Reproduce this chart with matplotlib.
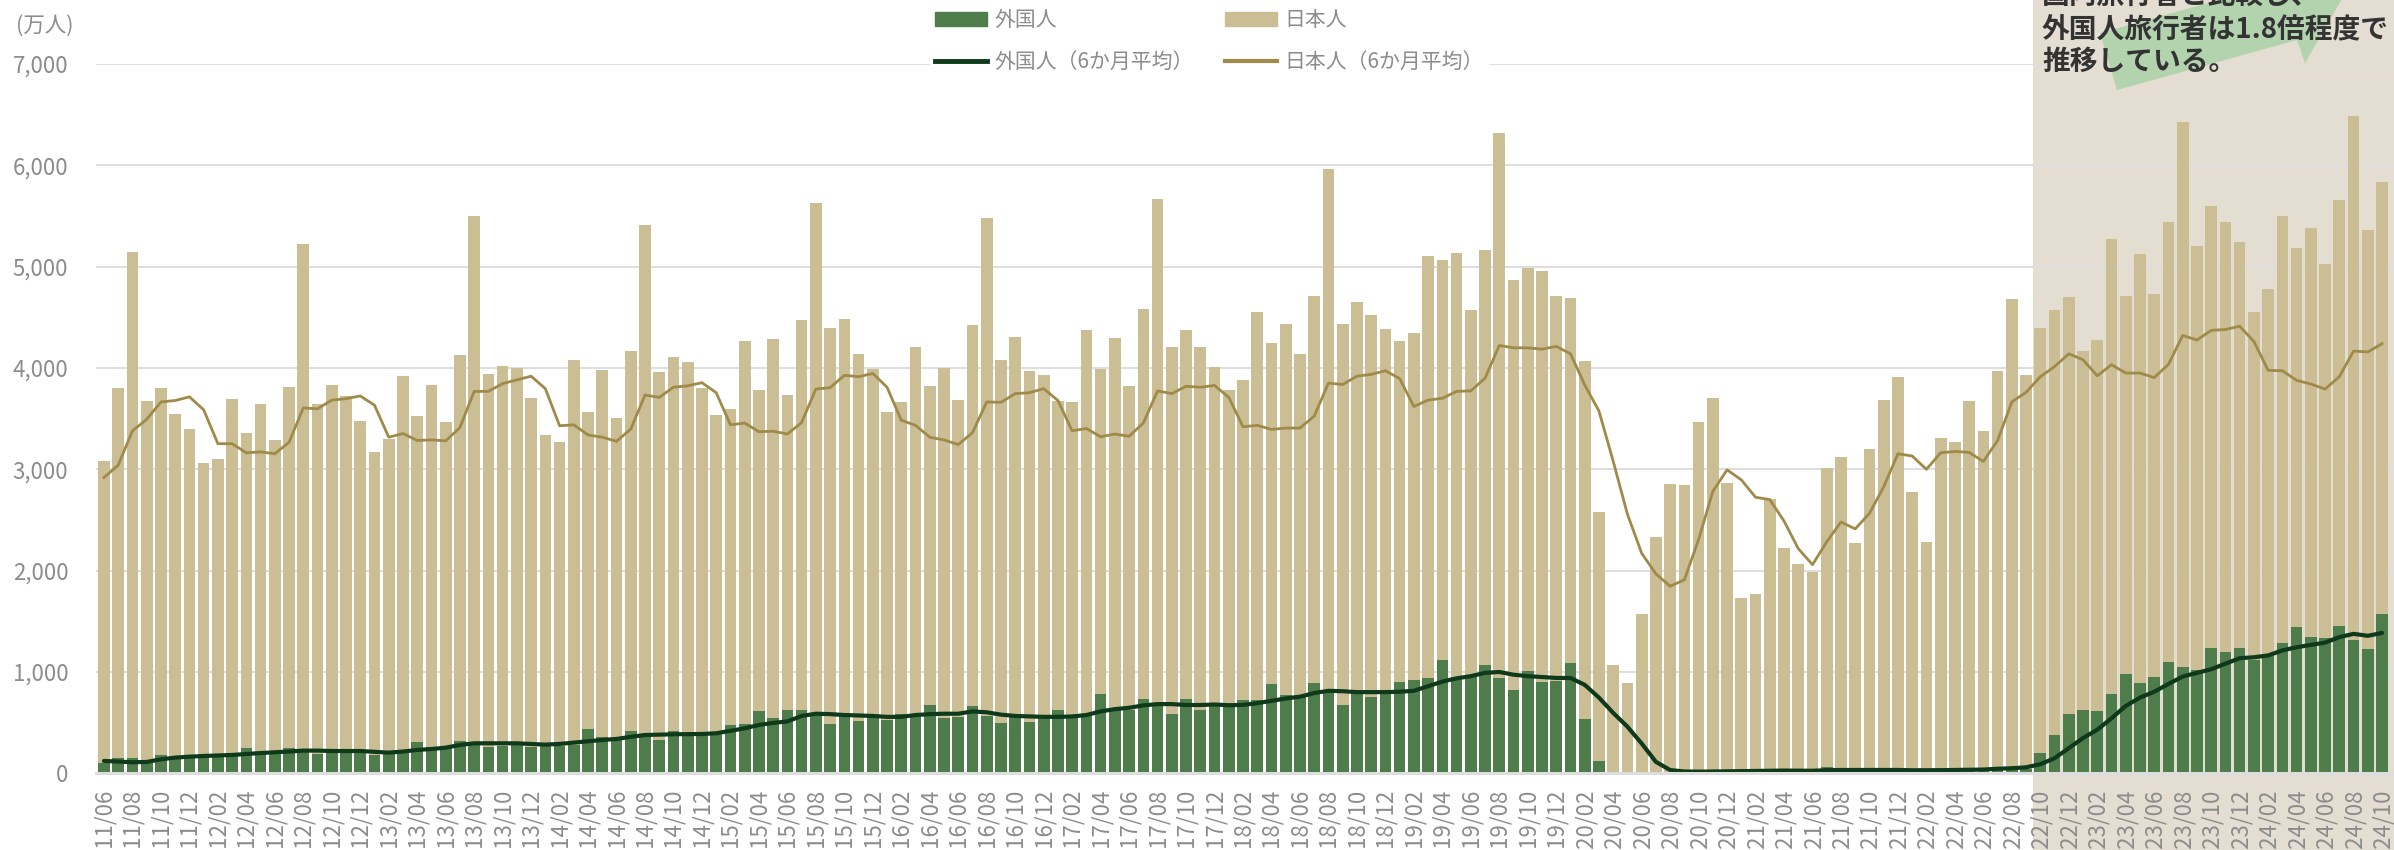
import numpy as np
import matplotlib
matplotlib.use("Agg")
import matplotlib.pyplot as plt
from matplotlib.patches import Patch, Rectangle, Polygon
from matplotlib.lines import Line2D
from matplotlib.transforms import blended_transform_factory

plt.rcParams['font.family'] = ['Noto Sans CJK JP', 'DejaVu Sans']

# monthly guest nights (万人), 2011/06 - 2024/10
foreign = [
    105, 151, 150, 115, 184, 165, 171,                                  # 2011
    178, 181, 188, 253, 207, 214, 247, 237, 188, 230, 230, 230,         # 2012
    178, 204, 230, 306, 263, 270, 319, 296, 260, 273, 280, 263,         # 2013
    273, 270, 280, 438, 355, 345, 418, 385, 326, 421, 395, 405,         # 2014
    395, 474, 487, 618, 543, 625, 629, 580, 490, 598, 520, 570,         # 2015
    529, 588, 557, 670, 543, 557, 661, 566, 498, 557, 507, 557,         # 2016
    624, 557, 575, 778, 647, 620, 738, 679, 588, 733, 629, 679,         # 2017
    665, 724, 720, 878, 769, 769, 896, 814, 670, 792, 756, 792,         # 2018
    905, 919, 941, 1118, 950, 950, 1072, 937, 819, 1014, 900, 910,      # 2019
    1086, 538, 122, 15, 5, 4, 10, 8, 12, 20, 28, 30,                    # 2020
    25, 20, 30, 28, 22, 25, 60, 35, 25, 25, 30, 32,                     # 2021
    30, 28, 35, 40, 42, 40, 32, 41, 45, 199, 376, 584,                  # 2022
    629, 611, 778, 977, 891, 946, 1095, 1050, 1018, 1240, 1195, 1240,   # 2023
    1118, 1154, 1290, 1439, 1344, 1335, 1457, 1312, 1231, 1575,         # 2024
]
japanese = [
    2981, 3650, 4990, 3555, 3617, 3383, 3227,
    2881, 2919, 3509, 3104, 3440, 3076, 3567, 4985, 3455, 3598, 3489, 3250,
    2994, 3099, 3693, 3219, 3570, 3196, 3808, 5206, 3681, 3750, 3720, 3438,
    3062, 2997, 3801, 3123, 3627, 3162, 3749, 5031, 3633, 3692, 3664, 3396,
    3143, 3123, 3784, 3160, 3742, 3113, 3846, 5053, 3904, 3886, 3622, 3421,
    3041, 3077, 3651, 3154, 3452, 3126, 3760, 4914, 3583, 3746, 3466, 3375,
    3050, 3104, 3801, 3208, 3647, 3204, 3846, 4991, 3620, 3638, 3575, 3330,
    3122, 3158, 3837, 3366, 3665, 3367, 3810, 5150, 3760, 3860, 3764, 3593,
    3357, 3425, 4163, 3945, 4181, 3625, 4095, 5380, 4050, 3977, 4055, 3796,
    3602, 3534, 2457, 1057, 882, 1571, 2320, 2843, 2834, 3451, 3678, 2834,
    1708, 1754, 2676, 2194, 2041, 1957, 2954, 3087, 2246, 3174, 3658, 3882,
    2748, 2257, 3277, 3231, 3628, 3340, 3941, 4638, 3883, 4195, 4199, 4113,
    3543, 3665, 4498, 3729, 4236, 3783, 4344, 5375, 4190, 4362, 4244, 4004,
    3439, 3624, 4212, 3747, 4036, 3692, 4199, 5177, 4131, 4258,
]
# 6-month averages as drawn
foreign_avg = [
    122, 115, 109, 112, 138, 155, 164,
    171, 176, 181, 191, 200, 207, 215, 224, 224, 220, 220, 220,
    212, 204, 215, 230, 240, 253, 280, 296, 296, 296, 296, 290,
    283, 290, 303, 316, 329, 339, 360, 378, 382, 385, 387, 388,
    395, 420, 444, 477, 497, 512, 566, 588, 584, 575, 570, 566,
    557, 557, 575, 584, 588, 588, 611, 602, 579, 566, 561, 557,
    557, 561, 575, 611, 633, 647, 670, 683, 683, 674, 674, 679,
    672, 675, 692, 715, 738, 756, 792, 814, 810, 801, 801, 801,
    805, 814, 860, 905, 937, 959, 991, 1000, 973, 959, 950, 941,
    941, 873, 747, 596, 460, 294, 113, 32, 18, 16, 18, 20,
    22, 24, 25, 27, 26, 25, 31, 33, 33, 32, 34, 33,
    30, 30, 31, 33, 35, 37, 45, 50, 59, 90, 149, 249,
    348, 430, 543, 665, 747, 805, 882, 955, 991, 1027, 1081, 1136,
    1145, 1163, 1213, 1244, 1267, 1290, 1344, 1376, 1357, 1385,
]
japanese_avg = [
    2919, 3041, 3380, 3493, 3665, 3679, 3715,
    3588, 3253, 3253, 3163, 3172, 3154, 3267, 3606, 3597, 3683, 3697, 3724,
    3633, 3317, 3353, 3285, 3290, 3281, 3412, 3769, 3769, 3846, 3882, 3919,
    3796, 3430, 3439, 3339, 3317, 3276, 3398, 3733, 3710, 3810, 3824, 3855,
    3756, 3439, 3457, 3371, 3376, 3348, 3462, 3792, 3805, 3928, 3914, 3946,
    3810, 3484, 3434, 3317, 3290, 3244, 3362, 3665, 3661, 3747, 3756, 3796,
    3679, 3380, 3403, 3321, 3348, 3326, 3457, 3774, 3747, 3819, 3810, 3828,
    3710, 3420, 3434, 3394, 3407, 3407, 3525, 3851, 3837, 3919, 3937, 3973,
    3896, 3620, 3683, 3701, 3769, 3774, 3900, 4222, 4199, 4199, 4186, 4213,
    4140, 3833, 3575, 3080, 2557, 2172, 1968, 1846, 1910, 2308, 2783, 2995,
    2896, 2724, 2701, 2489, 2217, 2059, 2285, 2480, 2412, 2566, 2828, 3154,
    3131, 3000, 3163, 3176, 3167, 3077, 3285, 3665, 3760, 3914, 4014, 4140,
    4081, 3923, 4032, 3950, 3950, 3905, 4036, 4321, 4276, 4371, 4380, 4412,
    4262, 3977, 3973, 3878, 3842, 3792, 3914, 4167, 4158, 4240,
]
months = ["'%02d/%02d" % ((2011 + (5 + k) // 12) % 100, (5 + k) % 12 + 1)
          for k in range(len(foreign))]
highlight_from = "'22/10"

GREEN = '#4E7C4A'
TAN = '#CBBE94'
DARK = '#0E3A1B'
TANLINE = '#A08A4A'
GRAY = '#8C8C8C'

W, H = 2394, 850
fig = plt.figure(figsize=(W / 100, H / 100), dpi=100)
ax = fig.add_axes([96 / W, (H - 773.3) / H, 1 - 96 / W, (773.3 - 64) / H])
ax.patch.set_visible(False)

x = np.arange(len(foreign))
ax.bar(x, foreign, width=0.82, color=GREEN, zorder=2)
ax.bar(x, japanese, width=0.82, bottom=foreign, color=TAN, zorder=2)
ax.plot(x, japanese_avg, color=TANLINE, lw=2.0, zorder=3)
ax.plot(x, foreign_avg, color=DARK, lw=3.0, zorder=4, solid_capstyle='round')

ax.set_xlim(-0.56, len(foreign) - 0.16)
ax.set_ylim(0, 7000)
ax.set_yticks(range(0, 7001, 1000))
ax.set_yticklabels(['{:,}'.format(v) for v in range(0, 7001, 1000)])
ax.set_xticks(x[::2])
ax.set_xticklabels(months[::2], rotation=90)
ax.grid(axis='y', color='#DEDEDE', lw=1.4)
ax.set_axisbelow(True)
for s in ['left', 'right', 'top']:
    ax.spines[s].set_visible(False)
ax.spines['bottom'].set_color('#DDDDDD')
ax.spines['bottom'].set_linewidth(2.2)
ax.spines['bottom'].set_zorder(5)
ax.tick_params(axis='both', length=0, colors=GRAY, labelsize=16)
ax.tick_params(axis='y', pad=20)
ax.tick_params(axis='x', pad=11)

# highlighted period
start = months.index(highlight_from) - 0.5
shade = Rectangle((start, 0), 60, 1,
                  transform=blended_transform_factory(ax.transData, fig.transFigure),
                  facecolor='#E3DDD2', edgecolor='none', zorder=-1)
fig.add_artist(shade)

def fp(px, py):
    return (px / W, 1 - py / H)

arrow = Polygon([fp(2117, 90), fp(2297, 40), fp(2305, 63), fp(2350, -15),
                 fp(2273, -15), fp(2100, 33)],
                closed=True, transform=fig.transFigure,
                facecolor='#B3D3AE', edgecolor='none', zorder=4)
fig.add_artist(arrow)

for txt, base in [('国内旅行者と比較し、', 4), ('外国人旅行者は1.8倍程度で', 37),
                  ('推移している。', 70)]:
    fig.text(2042 / W, 1 - base / H, txt, fontsize=20, fontweight='bold',
             color='#333333', va='baseline', ha='left', zorder=6)

fig.text(16 / W, 1 - 26 / H, '(万人)', fontsize=15.5, color=GRAY, va='center', ha='left')

handles = [Patch(color=GREEN), Line2D([], [], color=DARK, lw=3.5),
           Patch(color=TAN), Line2D([], [], color=TANLINE, lw=3)]
labels = ['外国人', '外国人（6か月平均）', '日本人', '日本人（6か月平均）']
leg = fig.legend(handles, labels, ncol=2, loc='upper left',
                 bbox_to_anchor=(930 / W, 1 - 4 / H), frameon=True,
                 facecolor='white', edgecolor='none', framealpha=1,
                 fontsize=15, handlelength=2.5, handleheight=0.7,
                 handletextpad=0.35, columnspacing=1.5, labelspacing=0.95,
                 borderpad=0.25, borderaxespad=0)
for t in leg.get_texts():
    t.set_color(GRAY)

fig.savefig('out.png', dpi=100)
